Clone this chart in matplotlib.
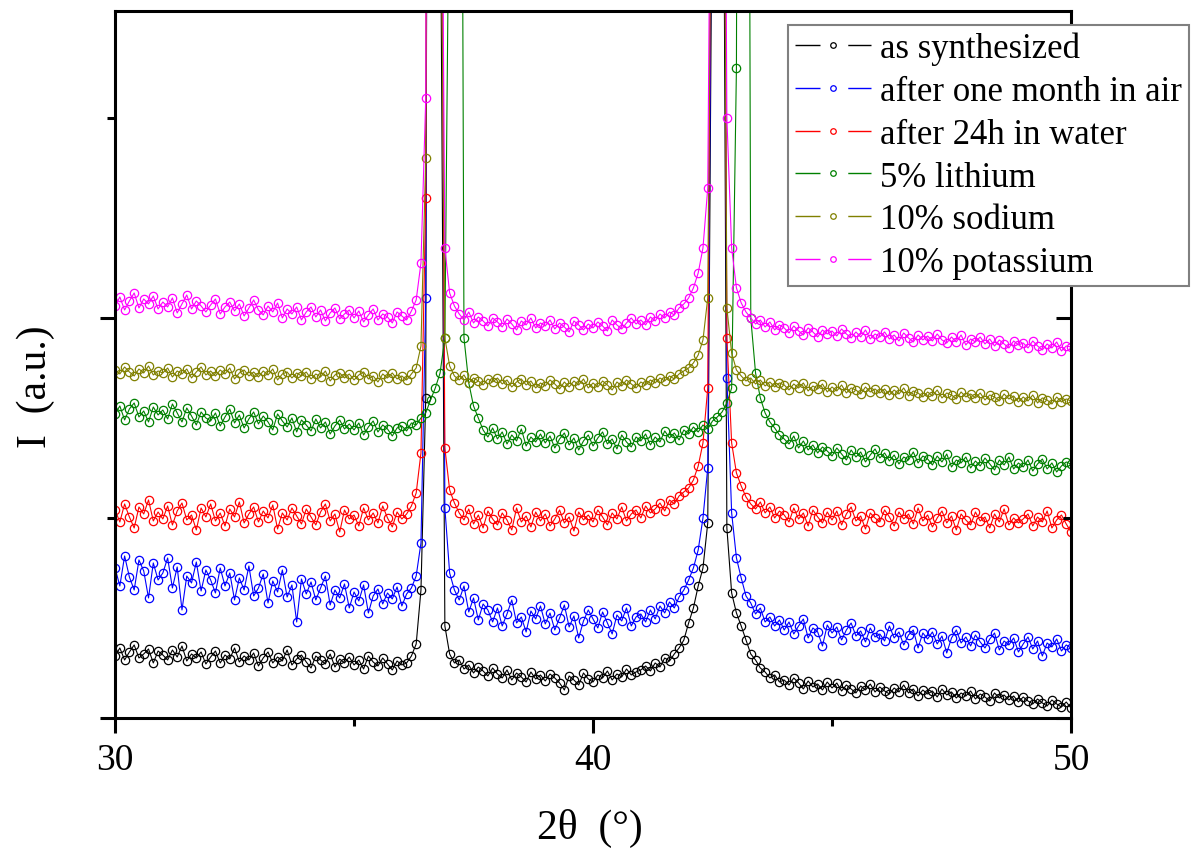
import numpy as np
import matplotlib.pyplot as plt
from matplotlib.lines import Line2D

plt.rcParams['font.family'] = ['Liberation Serif', 'DejaVu Serif']

# 2theta grid (deg), 0.1 deg steps
two_theta = np.linspace(30, 50, 201)

# intensities (a.u.)
as_synth = [
    62, 70, 58, 66, 73, 60, 64, 69, 55, 67,
    63, 58, 68, 61, 72, 57, 64, 60, 66, 54,
    61, 67, 55, 63, 59, 70, 56, 62, 58, 65,
    52, 60, 66, 55, 61, 57, 68, 53, 59, 63,
    56, 50, 62, 58, 54, 64, 51, 59, 55, 61,
    53, 58, 49, 62, 56, 52, 60, 54, 48, 57,
    53, 55, 62, 74, 128, 320, 2600, 2500, 900, 92,
    64, 55, 58, 49, 53, 45, 51, 47, 42, 50,
    44, 40, 48, 38, 45, 41, 36, 46, 39, 43,
    37, 44, 40, 35, 28, 42, 38, 33, 45, 39,
    36, 43, 40, 47, 38, 44, 41, 49, 43, 46,
    48, 52, 47, 55, 51, 60, 57, 64, 70, 78,
    95, 110, 132, 150, 195, 900, 3000, 1200, 190, 125,
    105, 92, 78, 64, 58, 50, 46, 40, 43, 36,
    38, 33, 40, 35, 29, 37, 31, 34, 28, 36,
    30, 35, 27, 33, 29, 25, 32, 28, 34, 26,
    31, 27, 24, 30, 26, 33, 25, 29, 22, 28,
    24, 27, 21, 29, 23, 26, 20, 25, 22, 27,
    19, 24, 21, 17, 25, 20, 23, 18, 22, 16,
    21, 17, 14, 19, 15, 12, 18, 14, 11, 16,
    10]

one_month_air = [
    150, 132, 162, 141, 128, 158, 147, 120, 155, 138,
    145, 160, 130, 151, 108, 142, 135, 156, 127, 148,
    138, 125, 150, 132, 145, 118, 140, 128, 152, 122,
    130, 144, 115, 137, 126, 148, 121, 133, 96, 139,
    124, 136, 118, 130, 142, 113, 128, 120, 134, 110,
    126, 117, 133, 105, 122, 129, 114, 125, 119, 131,
    112, 124, 130, 142, 175, 420, 2200, 3000, 1300, 210,
    145, 128, 118, 132, 106, 120, 98, 114, 108, 96,
    110, 92, 104, 118, 95, 101, 86, 107, 99, 112,
    94, 105, 88, 100, 113, 91, 102, 80, 97, 108,
    99, 90, 106, 95, 84, 103, 97, 110, 92, 101,
    104, 96, 108, 99, 112, 105, 116, 110, 121, 128,
    138, 150, 168, 200, 250, 1000, 2800, 1500, 340, 205,
    160, 140, 122, 115, 104, 110, 96, 101, 92, 98,
    88, 96, 84, 92, 99, 80, 90, 86, 72, 93,
    85, 91, 78, 88, 95, 82, 87, 76, 90, 81,
    84, 77, 92, 80, 86, 73, 83, 88, 70, 85,
    79, 86, 74, 82, 65, 80, 88, 75, 81, 72,
    83, 76, 70, 79, 85, 68, 77, 73, 80, 66,
    74, 81, 69, 77, 62, 75, 71, 79, 67, 73,
    70]

water_24h = [
    208, 196, 214, 201, 190, 211, 204, 218, 197, 206,
    199, 212, 193, 207, 215, 198, 203, 188, 210, 201,
    214, 197, 205, 192, 209, 201, 216, 195, 204, 211,
    196, 207, 200, 213, 189, 205, 198, 210, 202, 194,
    209, 201, 193, 206, 214, 197, 204, 186, 208, 199,
    203, 192, 210, 198, 205, 195, 212, 200, 191, 206,
    199, 204, 212, 225, 265, 520, 2400, 2600, 1100, 270,
    228, 215, 205, 198, 209, 194, 203, 190, 207, 199,
    193, 205, 198, 188, 210, 196, 202, 191, 206, 197,
    204, 192, 199, 208, 195, 201, 187, 206, 198, 203,
    196, 208, 201, 193, 205, 199, 211, 197, 204, 208,
    200, 212, 205, 209, 215, 207, 218, 214, 222, 226,
    230, 238, 252, 275, 330, 1100, 3000, 1400, 380, 275,
    245, 232, 221, 214, 209, 216, 205, 211, 200, 207,
    203, 196, 210, 199, 205, 192, 208, 201, 195, 206,
    198, 207, 193, 204, 211, 197, 202, 189, 205, 200,
    196, 208, 201, 192, 206, 199, 204, 194, 210, 197,
    203, 191, 200, 207, 195, 202, 188, 204, 198, 193,
    206, 197, 201, 190, 204, 196, 209, 193, 200, 195,
    199, 204, 192, 201, 196, 207, 190, 198, 203, 194,
    186]

lithium_5 = [
    304, 312, 298, 309, 315, 301, 307, 296, 311, 303,
    308, 299, 314, 305, 296, 310, 302, 293, 306, 300,
    297, 305, 292, 301, 309, 295, 303, 290, 299, 306,
    294, 302, 296, 288, 304, 297, 291, 300, 286, 298,
    293, 287, 299, 290, 296, 284, 292, 298, 289, 294,
    288, 295, 283, 291, 297, 286, 293, 289, 282, 290,
    292, 287, 295, 293, 300, 305, 318, 330, 345, 380,
    900, 2600, 1700, 380, 335, 312, 300, 288, 281, 290,
    279, 286, 274, 283, 277, 289, 272, 281, 276, 284,
    275, 282, 270, 279, 285, 273, 280, 268, 277, 283,
    272, 280, 286, 274, 279, 269, 283, 276, 271, 281,
    277, 284, 273, 281, 276, 287, 280, 285, 278, 288,
    284, 291, 286, 293, 289, 297, 301, 306, 315, 330,
    650, 2500, 2000, 400, 345, 320, 305, 296, 290, 283,
    279, 274, 282, 270, 277, 268, 273, 265, 271, 267,
    262, 270, 264, 258, 268, 261, 266, 256, 263, 269,
    260, 265, 257, 263, 254, 261, 258, 266, 255, 262,
    259, 253, 262, 256, 264, 251, 258, 255, 261, 250,
    257, 252, 260, 254, 248, 258, 253, 261, 249, 255,
    251, 258, 247, 254, 259, 249, 255, 246, 252, 256,
    254]

sodium_10 = [
    348, 344, 351, 346, 342, 349, 345, 352, 343, 347,
    345, 350, 341, 347, 344, 349, 340, 346, 351, 343,
    347, 342, 348, 344, 350, 339, 345, 348, 342, 346,
    341, 347, 343, 349, 338, 344, 346, 340, 345, 342,
    346, 339, 344, 341, 347, 337, 343, 345, 340, 344,
    338, 343, 346, 339, 342, 336, 344, 340, 345, 339,
    342, 338, 344, 350, 372, 560, 2500, 2400, 950, 380,
    352, 342, 338, 343, 335, 340, 337, 333, 339, 336,
    340, 334, 338, 331, 336, 339, 333, 337, 330, 335,
    332, 338, 334, 329, 336, 331, 337, 333, 339, 330,
    335, 331, 337, 333, 328, 336, 332, 338, 334, 330,
    336, 333, 338, 335, 340, 337, 342, 339, 344, 347,
    350, 355, 363, 378, 420, 1050, 3000, 1300, 410, 365,
    348, 342, 337, 340, 334, 338, 332, 336, 331, 335,
    333, 328, 334, 330, 335, 327, 332, 329, 334, 326,
    331, 327, 333, 325, 330, 328, 324, 331, 326, 329,
    325, 329, 323, 328, 324, 330, 322, 327, 325, 321,
    326, 322, 328, 320, 325, 323, 319, 326, 321, 324,
    320, 325, 318, 323, 321, 317, 324, 319, 322, 316,
    321, 317, 323, 315, 320, 318, 314, 321, 316, 319,
    317]

potassium_10 = [
    412, 421, 408, 417, 425, 410, 419, 414, 422, 409,
    416, 411, 420, 405, 414, 423, 409, 417, 412, 406,
    413, 419, 404, 411, 416, 407, 414, 402, 410, 418,
    408, 403, 412, 406, 415, 400, 409, 404, 411, 398,
    406, 411, 401, 408, 397, 405, 410, 399, 404, 408,
    400, 407, 396, 403, 409, 398, 404, 401, 395, 406,
    402, 398, 407, 418, 455, 620, 2400, 2800, 1150, 470,
    425, 412, 404, 398, 406, 395, 401, 397, 392, 400,
    396, 391, 399, 394, 388, 397, 393, 400, 390, 395,
    392, 398, 389, 395, 391, 386, 397, 393, 388, 394,
    390, 396, 392, 387, 398, 393, 389, 395, 400, 394,
    398, 393, 401, 397, 404, 400, 406, 403, 410, 414,
    420, 430, 445, 470, 530, 1150, 3000, 1500, 600, 470,
    430, 415, 406, 400, 394, 398, 391, 396, 388, 393,
    390, 385, 392, 387, 383, 390, 386, 381, 388, 384,
    387, 382, 389, 384, 380, 386, 381, 388, 379, 384,
    381, 386, 379, 383, 377, 385, 380, 376, 383, 378,
    382, 377, 384, 378, 375, 381, 376, 383, 373, 379,
    376, 381, 374, 379, 372, 378, 374, 370, 377, 373,
    375, 370, 377, 372, 368, 374, 370, 376, 367, 372,
    371]

series = [as_synth, one_month_air, water_24h, lithium_5, sodium_10, potassium_10]
labels = ['as synthesized', 'after one month in air', 'after 24h in water',
          '5% lithium', '10% sodium', '10% potassium']
colors = ['#000000', '#0000ff', '#ff0000', '#008000', '#808000', '#ff00ff']

fig = plt.figure(figsize=(11.96, 8.54), dpi=100)
ax = fig.add_axes([0.0962, 0.1581, 0.7993, 0.8279])

handles = []
for y, lab, c in zip(series, labels, colors):
    ax.plot(two_theta, y, color=c, lw=0.8, marker='o', ms=6, mfc='none',
            mec=c, mew=0.9)
    # legend sample: broken line with a small circle in the gap
    seg = Line2D([], [], color=c, lw=1.0, linestyle=(0, (18, 20)))
    dot = Line2D([], [], color=c, lw=0, marker='o', ms=4, mfc='none', mew=0.9)
    handles.append((seg, dot))

ax.set_xlim(30, 50)
ax.set_ylim(0, 707)
ax.set_xticks([30, 40, 50])
ax.set_xticks([35, 45], minor=True)
ax.set_yticks([0, 400])
ax.set_yticks([200, 600], minor=True)
ax.set_yticklabels([])

for s in ax.spines.values():
    s.set_linewidth(2.2)
ax.tick_params(which='both', direction='out', width=2.2, labelsize=27, pad=7,
               top=False, right=False)
ax.tick_params(which='major', length=11)
ax.tick_params(which='minor', length=5.5)

# right side ticks point inwards
ax2 = ax.twinx()
ax2.set_ylim(ax.get_ylim())
ax2.set_yticks([0, 400])
ax2.set_yticks([200, 600], minor=True)
ax2.set_yticklabels([])
ax2.tick_params(which='both', direction='in', width=2.2)
ax2.tick_params(which='major', length=11)
ax2.tick_params(which='minor', length=5.5)
for s in ax2.spines.values():
    s.set_visible(False)

ax.set_xlabel('2θ  (°)', fontsize=30)
ax.xaxis.set_label_coords(0.497, -0.127)
ax.set_ylabel('I  (a.u.)', fontsize=30)
ax.yaxis.set_label_coords(-0.063, 0.47)

leg = fig.legend(handles, labels, loc='upper left',
                 bbox_to_anchor=(788 / 1196, 1 - 26 / 854),
                 fontsize=25, handlelength=2.2, handletextpad=0.25,
                 labelspacing=0.28, borderpad=0.2, borderaxespad=0,
                 fancybox=False, framealpha=1, edgecolor='#808080')
leg.get_frame().set_linewidth(1.5)

fig.savefig('out.png', dpi=100)
